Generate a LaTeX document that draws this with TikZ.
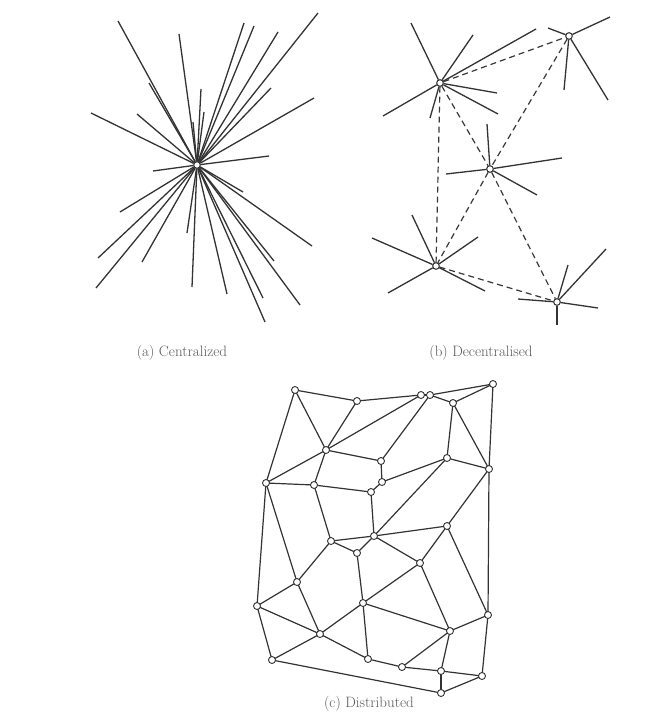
\documentclass[tikz,border=0pt]{standalone}
\usepackage{tikz}
\begin{document}
\begin{tikzpicture}[x=1pt,y=-1pt,
  spoke/.style={draw=black!80,line width=1.3pt},
  link/.style={draw=black!78,line width=1.2pt,dash pattern=on 6pt off 4pt},
  edge/.style={draw=black!80,line width=1.2pt},
  hub/.style={circle,draw=black!80,fill=white,line width=0.9pt,inner sep=0pt,minimum size=6.5pt},
  vtx/.style={circle,draw=black!80,fill=white,line width=0.9pt,inner sep=0pt,minimum size=7pt},
  captext/.style={text=black!65,font=\fontsize{15}{17}\selectfont}]
\useasboundingbox (0,0) rectangle (657,728);

% ---------- (a) Centralized ----------
\node[hub] (ca) at (197,165) {};
\foreach \x/\y [count=\i] in {118/21,179/34,244/23,254/26,278/32,318/13,271/88,314/98,269/156,
  91/113,137/114,149/83,201/89,204/112,193/122,153/171,120/212,98/258,96/288,142/262,187/233,
  192/287,227/294,263/298,265/322,300/305,274/261,312/246,243/192}{
  \coordinate (a\i) at (\x,\y);
  \draw[spoke] (ca) -- (a\i);
}
\node[hub] at (ca) {};

% ---------- (b) Decentralised ----------
\node[hub] (h1) at (440,83) {};
\node[hub] (h2) at (569,36) {};
\node[hub] (h3) at (490,169) {};
\node[hub] (h4) at (436,266) {};
\node[hub] (h5) at (557,302) {};
\foreach \h/\pts in {h1/{411/23,473/35,536/29,497/93,498/114,430/118,383/116},
  h2/{548/28,610/17,564/90,608/100},
  h3/{487/124,562/158,446/174,537/195},
  h4/{412/215,478/237,372/238,388/293,485/291},
  h5/{568/265,606/249,518/299,598/308,557/325}}{
  \foreach \x/\y [count=\i] in \pts {
    \coordinate (\h s\i) at (\x,\y);
    \draw[spoke] (\h) -- (\h s\i);
  }
}
\foreach \u/\v in {h1/h2,h1/h3,h1/h4,h2/h3,h3/h4,h3/h5,h4/h5}{
  \draw[link] (\u) -- (\v);
}
\foreach \h in {h1,h2,h3,h4,h5}{\node[hub] at (\h) {};}

% ---------- (c) Distributed ----------
\foreach \n/\x/\y in {A/295/390,B/357/401,C/326/450,D/381/461,E/382/482,F/266/483,G/314/485,
  H/371/492,I/374/536,J/331/541,K/357/553,L/421/395,M/430/395,N/493/384,O/453/403,P/447/458,
  Q/489/469,R/447/526,S/420/563,T/297/582,U/257/606,V/363/603,W/320/634,X/272/660,Y/368/659,
  Z/488/615,AA/450/631,BB/402/667,CC/441/671,DD/482/676,EE/441/693}{
  \coordinate (\n) at (\x,\y);
}
\foreach \u/\v in {A/B,A/C,A/F,B/C,B/L,C/L,C/F,C/G,C/D,D/E,D/M,E/H,E/P,F/G,F/U,F/T,G/H,G/J,
  H/I,I/J,J/K,K/I,J/T,K/V,I/S,I/R,I/P,L/M,M/N,M/O,O/N,O/P,O/Q,N/Q,P/Q,Q/R,Q/Z,R/S,R/Z,
  S/V,S/AA,T/U,T/W,U/W,U/X,V/W,V/Y,V/AA,W/X,W/Y,X/EE,Y/BB,Z/AA,Z/DD,AA/BB,AA/CC,BB/CC,
  CC/DD,CC/EE,DD/EE}{
  \draw[edge] (\u) -- (\v);
}
\foreach \n in {A,B,C,D,E,F,G,H,I,J,K,L,M,N,O,P,Q,R,S,T,U,V,W,X,Y,Z,AA,BB,CC,DD,EE}{
  \node[vtx] (n\n) at (\n) {};
}

% ---------- captions ----------
\node[captext] (capa) at (182,353) {(a) Centralized};
\node[captext] (capb) at (481,353) {(b) Decentralised};
\node[captext] (capc) at (369,704) {(c) Distributed};
\end{tikzpicture}
\end{document}
